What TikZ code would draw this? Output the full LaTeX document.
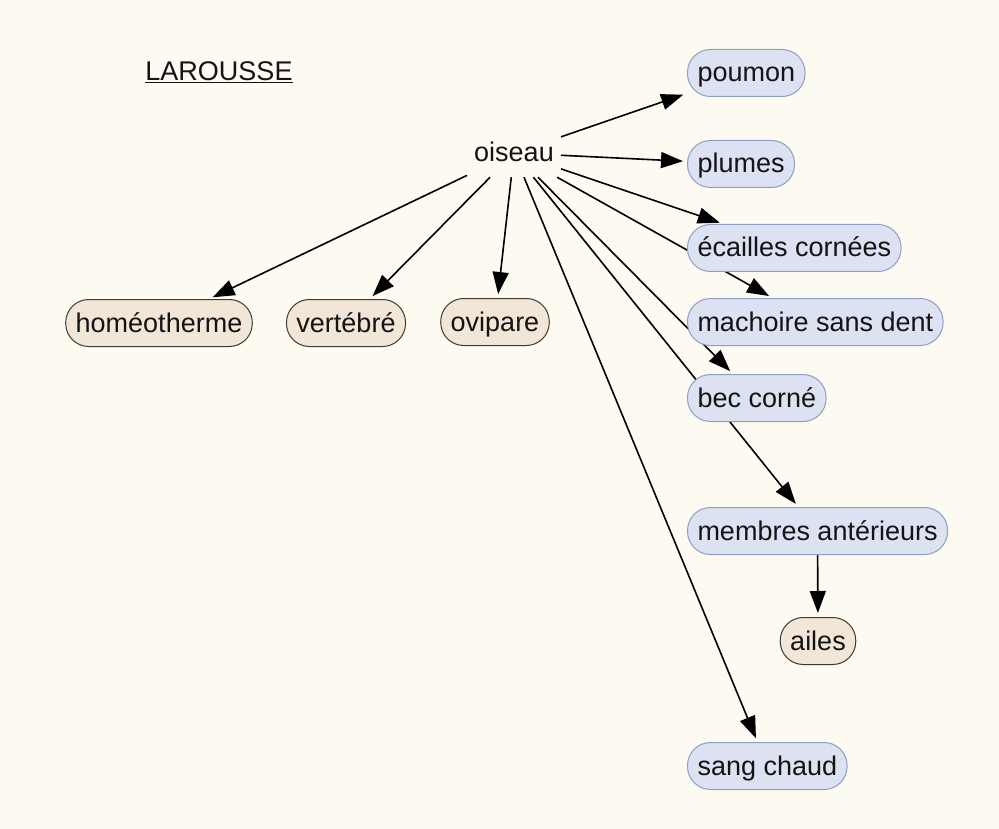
\documentclass[tikz,border=0pt]{standalone}
\usepackage{fontspec}
\setmainfont{Liberation Sans}
\usetikzlibrary{arrows.meta,backgrounds}
\definecolor{bgc}{HTML}{FDFAF2}
\definecolor{bfill}{HTML}{DCE2F2}
\definecolor{bline}{HTML}{8E9DC2}
\definecolor{tfill}{HTML}{F1E6D8}
\definecolor{tline}{HTML}{40392F}
\definecolor{txt}{HTML}{141414}
\begin{document}
\begin{tikzpicture}[x=1pt,y=-1pt,
  every node/.style={font=\fontsize{27}{32}\selectfont, text=txt},
  pill/.style={draw, rounded corners=23pt, minimum height=47pt, inner xsep=10pt,
    text height=19pt, text depth=1pt, line width=1pt},
  bnode/.style={pill, fill=bfill, draw=bline},
  tnode/.style={pill, fill=tfill, draw=tline},
  arr/.style={-{Triangle[length=22pt,width=16pt]}, line width=1.6pt, shorten >=4pt}]
\useasboundingbox (0,0) rectangle (999,829);
\begin{pgfonlayer}{background}
\fill[bgc] (0,0) rectangle (999,829);
\end{pgfonlayer}

\node (lar) at (219,72) {\underline{LAROUSSE}};
\node[minimum height=48pt, inner xsep=7pt, text height=19pt, text depth=1pt] (ois) at (514,153) {oiseau};
\node[bnode, anchor=west] (pou) at (687,73) {poumon};
\node[bnode, anchor=west] (plu) at (687,164) {plumes};
\node[bnode, anchor=west] (eca) at (687,248) {écailles cornées};
\node[bnode, anchor=west] (mac) at (687,322) {machoire sans dent};
\node[bnode, anchor=west] (bec) at (687,398) {bec corné};
\node[bnode, anchor=west] (mem) at (687,531) {membres antérieurs};
\node[tnode] (ail) at (818,641) {ailes};
\node[bnode, anchor=west] (san) at (687,766) {sang chaud};
\node[tnode] (hom) at (159,323) {homéotherme};
\node[tnode] (ver) at (346,323) {vertébré};
\node[tnode] (ovi) at (495,322) {ovipare};

\begin{pgfonlayer}{background}
\draw[arr] (ois) -- (pou);
\draw[arr] (ois) -- (plu);
\draw[arr] (ois) -- (eca);
\draw[arr] (ois) -- (mac);
\draw[arr] (ois) -- (bec);
\draw[arr] (ois) -- (mem);
\draw[arr] (ois) -- (san);
\draw[arr] (ois) -- (hom);
\draw[arr] (ois) -- (ver);
\draw[arr] (ois) -- (ovi);
\draw[arr] (mem) -- (ail);
\end{pgfonlayer}
\end{tikzpicture}
\end{document}
